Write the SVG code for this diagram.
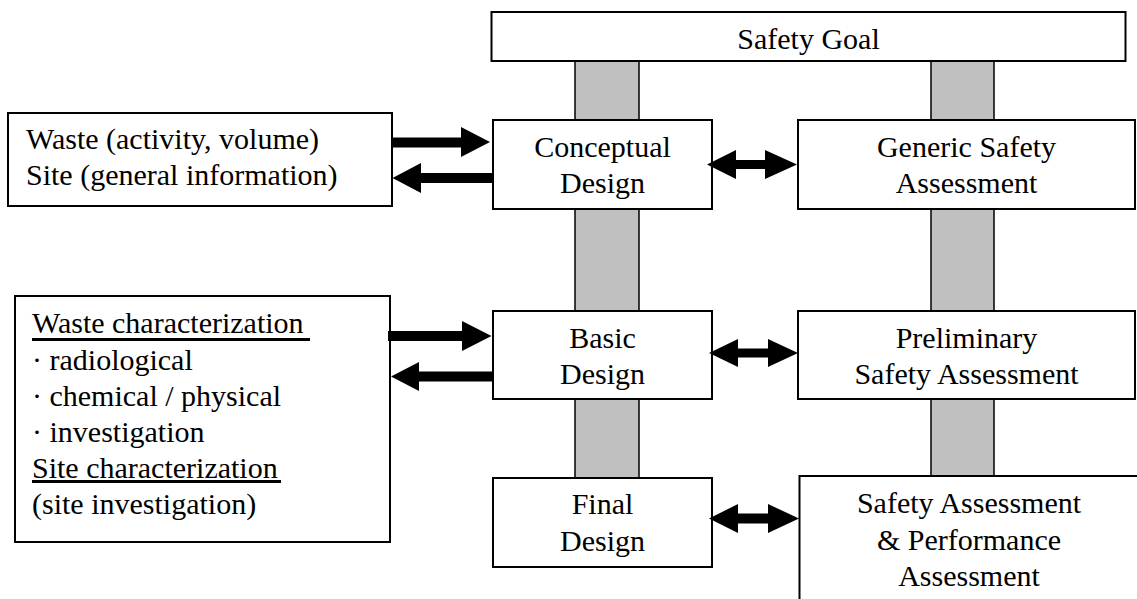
<svg xmlns="http://www.w3.org/2000/svg" width="1137" height="599" viewBox="0 0 1137 599">
  <style>
    .box { fill: #ffffff; stroke: #000000; stroke-width: 2; }
    .pillar { fill: #c0c0c0; stroke: #000000; stroke-width: 1.5; }
    .arrow { fill: #000000; stroke: none; }
    .c { text-anchor: middle; }
    .ul { fill: #000000; }
  </style>
  <rect width="1137" height="599" fill="#ffffff"/>

  <!-- vertical grey pillars behind the boxes -->
  <g id="pillars">
    <rect class="pillar" x="575" y="61" width="64" height="417"/>
    <rect class="pillar" x="931" y="61" width="63" height="415"/>
  </g>

  <g font-family="'Liberation Serif', 'Times New Roman', Times, serif" font-size="30" fill="#000000">
    <g id="safety-goal">
      <rect class="box" x="491.5" y="12" width="634" height="49"/>
      <text class="c" x="808.5" y="49">Safety Goal</text>
    </g>

    <g id="waste-site-info">
      <rect class="box" x="8" y="113" width="384" height="93"/>
      <text x="26" y="149">Waste (activity, volume)</text>
      <text x="26" y="185">Site (general information)</text>
    </g>

    <g id="conceptual-design">
      <rect class="box" x="493" y="120" width="219" height="89"/>
      <text class="c" x="602.5" y="157">Conceptual</text>
      <text class="c" x="602.5" y="193">Design</text>
    </g>

    <g id="generic-safety-assessment">
      <rect class="box" x="798" y="120" width="337" height="89"/>
      <text class="c" x="966.5" y="157">Generic Safety</text>
      <text class="c" x="966.5" y="193">Assessment</text>
    </g>

    <g id="characterization">
      <rect class="box" x="15" y="296" width="375" height="246"/>
      <text x="32" y="333">Waste characterization</text>
      <rect class="ul" x="32" y="338" width="278" height="3"/>
      <text x="32" y="370">· radiological</text>
      <text x="32" y="406">· chemical / physical</text>
      <text x="32" y="442">· investigation</text>
      <text x="32" y="478">Site characterization</text>
      <rect class="ul" x="32" y="480" width="249" height="3"/>
      <text x="32" y="514">(site investigation)</text>
    </g>

    <g id="basic-design">
      <rect class="box" x="493" y="311" width="219" height="88"/>
      <text class="c" x="602.5" y="348">Basic</text>
      <text class="c" x="602.5" y="384">Design</text>
    </g>

    <g id="preliminary-safety-assessment">
      <rect class="box" x="798" y="311" width="337" height="88"/>
      <text class="c" x="966.5" y="348">Preliminary</text>
      <text class="c" x="966.5" y="384">Safety Assessment</text>
    </g>

    <g id="final-design">
      <rect class="box" x="493" y="478" width="219" height="89"/>
      <text class="c" x="602.5" y="514">Final</text>
      <text class="c" x="602.5" y="551">Design</text>
    </g>

    <g id="safety-performance-assessment">
      <rect class="box" x="799.5" y="476" width="400" height="200"/>
      <text class="c" x="969" y="513">Safety Assessment</text>
      <text class="c" x="969" y="550">&amp; Performance</text>
      <text class="c" x="969" y="586">Assessment</text>
    </g>
  </g>

  <!-- block arrows -->
  <g id="connectors">
    <!-- waste/site info -> conceptual design -->
    <polygon class="arrow" points="392,137.5 461,137.5 461,127 490,142 461,157 461,147.5 392,147.5"/>
    <!-- conceptual design -> waste/site info -->
    <polygon class="arrow" points="493,173 421,173 421,163 392.5,178 421,193 421,183 493,183"/>
    <!-- characterization -> basic design -->
    <polygon class="arrow" points="388,331 462,331 462,321 491.5,336 462,351 462,341 388,341"/>
    <!-- basic design -> characterization -->
    <polygon class="arrow" points="493,371.5 419,371.5 419,362 391,376.5 419,391 419,381.5 493,381.5"/>
    <!-- design <-> assessment, two-headed -->
    <polygon class="arrow" points="707,164.5 736,150 736,160 765,160 765,150 797,164.5 765,179 765,169 736,169 736,179"/>
    <polygon class="arrow" points="709,353 738,339 738,348.5 768,348.5 768,339 798,353 768,367 768,357.5 738,357.5 738,367"/>
    <polygon class="arrow" points="709,518.5 738,504 738,513.5 768,513.5 768,504 799,518.5 768,533 768,523.5 738,523.5 738,533"/>
  </g>
</svg>
